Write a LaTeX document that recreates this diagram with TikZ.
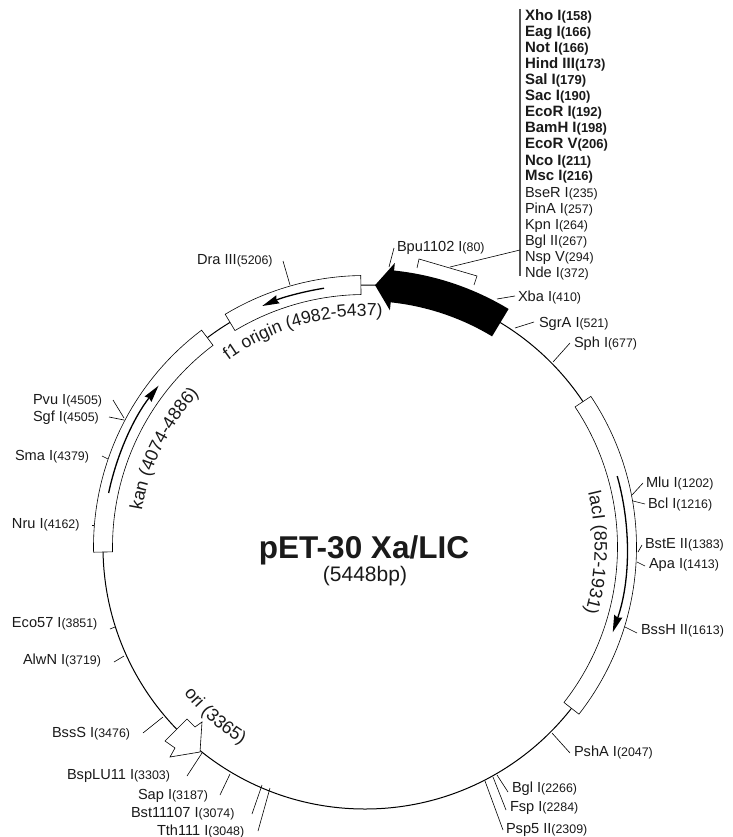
\documentclass[tikz,border=0pt]{standalone}
\usepackage{fontspec}
\setmainfont{Liberation Sans}
\usetikzlibrary{arrows.meta,decorations.text}
\definecolor{inkc}{HTML}{1A1A1A}
\definecolor{barc}{HTML}{555555}
\tikzset{
  ringline/.style={draw=black,line width=1pt},
  featbox/.style={draw=black,line width=0.6pt,fill=white},
  sitetick/.style={draw=black,line width=0.6pt},
  sitelab/.style={anchor=base west,inner sep=0pt,outer sep=0pt,text=inkc,font=\fontsize{14.6}{16}\selectfont},
  listlab/.style={sitelab},
  dirarrow/.style={draw=black,line width=1.3pt,-{Stealth[length=17pt,width=8.5pt,inset=1.5pt]}},
}
\newcommand{\num}[1]{{\fontsize{12.4}{16}\selectfont #1}}
\newcommand{\bnum}[1]{{\fontsize{13}{16}\selectfont\bfseries #1}}
% name, tick x1 y1, tick x2 y2, label x, baseline y, name text, number
\newcommand{\sitemark}[9]{%
  \coordinate (#1a) at (#2,-#3);
  \coordinate (#1b) at (#4,-#5);
  \draw[sitetick] (#1a) -- (#1b);
  \node[sitelab] (#1) at (#6,-#7) {#8\num{(#9)}};
}
\newcommand{\boldlab}[4]{\node[listlab,font=\fontsize{15}{16}\selectfont\bfseries] (#1) at (525,-#2) {#3\bnum{(#4)}};}
\newcommand{\plainlab}[4]{\node[listlab] (#1) at (525,-#2) {#3\num{(#4)}};}
\newcommand{\genebox}[2]{%
  \path[featbox] (#1:271.5pt) arc[start angle=#1,end angle=#2,radius=271.5pt]
    -- (#2:252.5pt) arc[start angle=#2,end angle=#1,radius=252.5pt] -- cycle;}
\newcommand{\arctext}[5]{%
  \path[decorate,decoration={text along path,text align=center,
    text={|\fontsize{#4}{#4}\selectfont\color{inkc}|#5}}]
    (#1:#3pt) arc[start angle=#1,end angle=#2,radius=#3pt];}
\begin{document}
\begin{tikzpicture}[x=1pt,y=1pt]
\useasboundingbox (0,0) rectangle (732,-837);
\fill[white] (0,0) rectangle (732,-837);
\coordinate (center) at (365,-547);
\begin{scope}[shift={(center)}]
  \draw[ringline] (0,0) circle[radius=262pt];
  \genebox{33.7}{-38}
  \genebox{181.1}{127}
  \genebox{121}{90.9}
  \fill[black] (58.9:278pt) arc[start angle=58.9,end angle=84,radius=278pt]
    -- (84:285.6pt) -- (87.8:262pt) -- (84:238pt) -- (84:246pt)
    arc[start angle=84,end angle=58.9,radius=246pt] -- cycle;
  \draw[dirarrow] (15.7:262pt) arc[start angle=15.7,end angle=-19,radius=262pt];
  \draw[dirarrow] (168.1:262pt) arc[start angle=168.1,end angle=142,radius=262pt];
  \draw[dirarrow] (99:262pt) arc[start angle=99,end angle=113.1,radius=262pt];
  \arctext{16}{-19}{229.6}{18}{lacI (852-1931)}
  \arctext{173}{135}{226}{18}{kan (4074-4886)}
  \arctext{129}{83}{231}{17.6}{f1 origin (4982-5437)}
  \arctext{216}{241}{233}{18}{ori (3365)}
\end{scope}
% ori arrow
\path[featbox] (165,-741) -- (187,-719) -- (195,-727) -- (202,-722) -- (200,-752) -- (170,-757) -- (175,-748) -- cycle;
% title
\node[anchor=base,inner sep=0pt,text=inkc,font=\fontsize{31.5}{34}\selectfont\bfseries] (title) at (364,-558) {pET-30 Xa/LIC};
\node[anchor=base,inner sep=0pt,text=inkc,font=\fontsize{21}{24}\selectfont] (size) at (365,-581) {(5448bp)};
% list
\coordinate (bartop) at (520,-9);
\coordinate (barbot) at (520,-276);
\draw[barc,line width=1.6pt] (bartop) -- (barbot);
\boldlab{xho}{21}{Xho I}{158}
\boldlab{eag}{37}{Eag I}{166}
\boldlab{not}{53}{Not I}{166}
\boldlab{hind}{69}{Hind III}{173}
\boldlab{sal}{85}{Sal I}{179}
\boldlab{sac}{101}{Sac I}{190}
\boldlab{ecor}{117}{EcoR I}{192}
\boldlab{bamh}{133}{BamH I}{198}
\boldlab{ecov}{149}{EcoR V}{206}
\boldlab{nco}{165}{Nco I}{211}
\boldlab{msc}{181}{Msc I}{216}
\plainlab{bser}{197}{BseR I}{235}
\plainlab{pina}{213}{PinA I}{257}
\plainlab{kpn}{229}{Kpn I}{264}
\plainlab{bglii}{245}{Bgl II}{267}
\plainlab{nsp}{261}{Nsp V}{294}
\plainlab{nde}{277}{Nde I}{372}
% bracket
\coordinate (brA) at (417,-268);
\coordinate (brB) at (419,-259);
\coordinate (brC) at (477,-276);
\coordinate (brD) at (474,-285);
\coordinate (brM) at (450,-267);
\coordinate (brE) at (520,-250);
\draw[sitetick] (brA) -- (brB) -- (brC) -- (brD);
\draw[sitetick] (brM) -- (brE);
% sites
\sitemark{bpu}{389}{267}{394}{248}{397}{251}{Bpu1102 I}{80}
\sitemark{xba}{497}{299}{515}{296}{518}{301}{Xba I}{410}
\sitemark{sgra}{515}{328}{534}{322}{539}{327}{SgrA I}{521}
\sitemark{sph}{553}{362}{570}{343}{574}{347}{Sph I}{677}
\sitemark{mlu}{632}{495}{643}{483}{646}{487}{Mlu I}{1202}
\sitemark{bcl}{633}{501}{645}{504}{648}{508}{Bcl I}{1216}
\sitemark{bste}{638}{552}{642}{545}{645}{548}{BstE II}{1383}
\sitemark{apa}{637}{562}{645}{566}{649}{568}{Apa I}{1413}
\sitemark{bssh}{625}{627}{637}{633}{641}{634}{BssH II}{1613}
\sitemark{psha}{552}{733}{570}{753}{574}{756}{PshA I}{2047}
\sitemark{bgl}{497}{775}{508}{792}{512}{792}{Bgl I}{2266}
\sitemark{fsp}{493}{777}{506}{810}{510}{811}{Fsp I}{2284}
\sitemark{psp}{485}{781}{503}{830}{506}{833}{Psp5 II}{2309}
\sitemark{alwn}{124}{656}{114}{662}{23}{664}{AlwN I}{3719}
\sitemark{ecof}{115}{627}{110}{629}{12}{627}{Eco57 I}{3851}
\sitemark{bsss}{163}{717}{143}{733}{52}{737}{BssS I}{3476}
\sitemark{bsplu}{202}{753}{187}{776}{67}{779}{BspLU11 I}{3303}
\sitemark{sap}{230}{774}{220}{795}{138}{799}{Sap I}{3187}
\sitemark{bst}{262}{785}{252}{814}{131}{817}{Bst11107 I}{3074}
\sitemark{tth}{270}{788}{258}{831}{157}{835}{Tth111 I}{3048}
\sitemark{dra}{290}{285}{283}{261}{197}{264}{Dra III}{5206}
\sitemark{pvu}{124}{418}{113}{400}{33}{404}{Pvu I}{4505}
\sitemark{sgf}{124}{420}{109}{417}{33}{421}{Sgf I}{4505}
\sitemark{sma}{108}{459}{102}{456}{15}{460}{Sma I}{4379}
\sitemark{nru}{94}{525}{92}{525}{12}{528}{Nru I}{4162}
\end{tikzpicture}
\end{document}
